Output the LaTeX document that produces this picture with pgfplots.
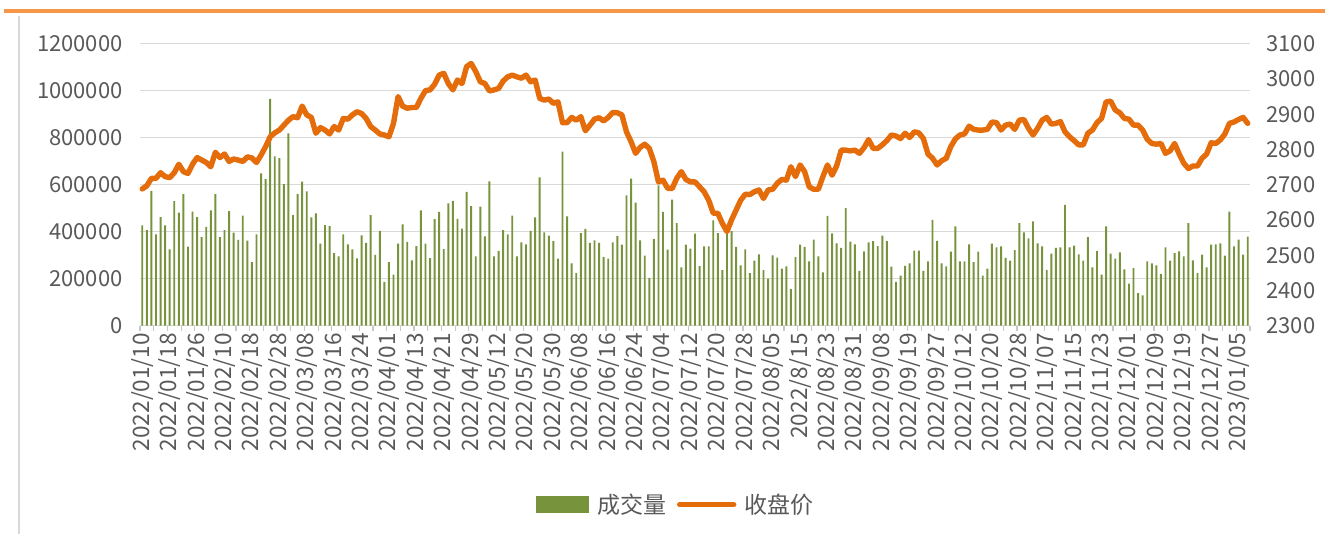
\documentclass[border=0pt]{standalone}
\usepackage{pgfplots}
\pgfplotsset{compat=1.18}
\usepackage{pgfplotstable}
\usepackage{fontspec}
\setmainfont{Noto Sans CJK SC}
\definecolor{barcol}{RGB}{119,147,60}
\definecolor{linecol}{RGB}{228,108,10}
\definecolor{topcol}{RGB}{247,150,70}
\definecolor{gridcol}{RGB}{217,217,217}
\definecolor{tickcol}{RGB}{200,200,200}
\definecolor{txtcol}{RGB}{89,89,89}
\pgfplotstableread{
x vol
0 427000
1 407000
2 574000
3 389000
4 462000
5 427000
6 325000
7 530000
8 481000
9 560000
10 336000
11 485000
12 462000
13 377000
14 421000
15 491000
16 560000
17 377000
18 407000
19 488000
20 396000
21 365000
22 468000
23 362000
24 271000
25 389000
26 648000
27 624000
28 965000
29 721000
30 713000
31 603000
32 818000
33 471000
34 560000
35 613000
36 572000
37 461000
38 478000
39 349000
40 428000
41 424000
42 309000
43 295000
44 389000
45 346000
46 325000
47 287000
48 384000
49 352000
50 471000
51 301000
52 404000
53 187000
54 271000
55 217000
56 349000
57 431000
58 357000
59 278000
60 339000
61 491000
62 349000
63 288000
64 454000
65 484000
66 326000
67 521000
68 531000
69 455000
70 413000
71 569000
72 509000
73 295000
74 507000
75 380000
76 614000
77 295000
78 318000
79 407000
80 389000
81 468000
82 295000
83 355000
84 346000
85 404000
86 461000
87 631000
88 397000
89 383000
90 360000
91 285000
92 741000
93 465000
94 265000
95 224000
96 394000
97 412000
98 353000
99 363000
100 353000
101 292000
102 285000
103 355000
104 382000
105 345000
106 555000
107 626000
108 524000
109 363000
110 298000
111 204000
112 370000
113 597000
114 484000
115 324000
116 536000
117 436000
118 248000
119 345000
120 328000
121 392000
122 254000
123 338000
124 338000
125 448000
126 394000
127 236000
128 413000
129 403000
130 335000
131 257000
132 325000
133 224000
134 277000
135 304000
136 236000
137 200000
138 299000
139 290000
140 243000
141 253000
142 156000
143 292000
144 345000
145 335000
146 274000
147 366000
148 295000
149 227000
150 467000
151 393000
152 350000
153 331000
154 500000
155 358000
156 346000
157 233000
158 316000
159 355000
160 360000
161 339000
162 383000
163 360000
164 251000
165 186000
166 213000
167 255000
168 265000
169 319000
170 319000
171 233000
172 274000
173 450000
174 361000
175 265000
176 253000
177 315000
178 423000
179 274000
180 274000
181 346000
182 271000
183 315000
184 213000
185 243000
186 349000
187 333000
188 338000
189 289000
190 277000
191 322000
192 437000
193 397000
194 372000
195 444000
196 350000
197 338000
198 238000
199 307000
200 331000
201 333000
202 514000
203 333000
204 341000
205 304000
206 277000
207 377000
208 248000
209 318000
210 217000
211 423000
212 307000
213 285000
214 312000
215 240000
216 179000
217 245000
218 139000
219 129000
220 274000
221 265000
222 257000
223 221000
224 333000
225 277000
226 309000
227 316000
228 295000
229 437000
230 278000
231 224000
232 302000
233 248000
234 345000
235 346000
236 350000
237 298000
238 485000
239 338000
240 366000
241 302000
242 379000
}\voltable
\pgfplotstableread{
x close
0 2688
1 2697
2 2718
3 2718
4 2734
5 2723
6 2720
7 2734
8 2758
9 2737
10 2732
11 2758
12 2777
13 2770
14 2763
15 2751
16 2792
17 2777
18 2787
19 2766
20 2773
21 2770
22 2766
23 2779
24 2776
25 2763
26 2784
27 2808
28 2836
29 2847
30 2855
31 2869
32 2883
33 2893
34 2890
35 2923
36 2898
37 2891
38 2846
39 2862
40 2855
41 2844
42 2865
43 2855
44 2888
45 2886
46 2898
47 2907
48 2902
49 2888
50 2865
51 2855
52 2844
53 2841
54 2836
55 2874
56 2950
57 2923
58 2917
59 2919
60 2919
61 2945
62 2967
63 2969
64 2985
65 3011
66 3016
67 2987
68 2969
69 2997
70 2987
71 3035
72 3044
73 3021
74 2992
75 2987
76 2966
77 2969
78 2973
79 2994
80 3006
81 3011
82 3006
83 3002
84 3011
85 2992
86 2997
87 2945
88 2940
89 2943
90 2931
91 2935
92 2876
93 2876
94 2891
95 2883
96 2893
97 2853
98 2869
99 2886
100 2890
101 2881
102 2891
103 2905
104 2904
105 2898
106 2850
107 2822
108 2789
109 2806
110 2815
111 2803
112 2765
113 2708
114 2713
115 2690
116 2689
117 2718
118 2737
119 2715
120 2708
121 2708
122 2694
123 2680
124 2656
125 2619
126 2619
127 2590
128 2567
129 2600
130 2628
131 2656
132 2673
133 2672
134 2680
135 2685
136 2661
137 2685
138 2687
139 2704
140 2715
141 2713
142 2751
143 2723
144 2756
145 2737
146 2694
147 2687
148 2687
149 2723
150 2756
151 2727
152 2753
153 2798
154 2798
155 2796
156 2798
157 2789
158 2805
159 2828
160 2803
161 2803
162 2813
163 2825
164 2841
165 2838
166 2831
167 2846
168 2834
169 2850
170 2847
171 2831
172 2787
173 2775
174 2756
175 2768
176 2775
177 2808
178 2830
179 2841
180 2844
181 2866
182 2857
183 2855
184 2855
185 2857
186 2878
187 2876
188 2855
189 2869
190 2872
191 2857
192 2883
193 2885
194 2860
195 2841
196 2860
197 2883
198 2891
199 2872
200 2874
201 2879
202 2850
203 2836
204 2825
205 2813
206 2813
207 2846
208 2855
209 2876
210 2888
211 2935
212 2937
213 2912
214 2904
215 2888
216 2886
217 2869
218 2869
219 2855
220 2829
221 2817
222 2815
223 2817
224 2789
225 2796
226 2817
227 2787
228 2761
229 2746
230 2753
231 2753
232 2775
233 2787
234 2819
235 2817
236 2827
237 2844
238 2874
239 2878
240 2885
241 2891
242 2874
}\closetable
\begin{document}
\begin{tikzpicture}
\path[use as bounding box] (0,0) rectangle (662.5bp,-267bp);
\draw[topcol, line width=1.7bp] (2bp,-5.5bp) -- (662.5bp,-5.5bp);
\draw[gridcol, line width=0.6bp] (9.5bp,-8bp) -- (9.5bp,-267bp);
\begin{axis}[
  at={(70bp,-162.85bp)}, anchor=south west,
  width=555bp, height=141bp, scale only axis,
  xmin=-0.5, xmax=242.5, ymin=0, ymax=1200000,
  scaled y ticks=false,
  axis x line*=bottom, axis y line*=left,
  x axis line style={gridcol, line width=0.75bp},
  y axis line style={draw=none},
  ytick={0,200000,400000,600000,800000,1000000,1200000},
  yticklabels={0,200000,400000,600000,800000,1000000,1200000},
  ymajorgrids, major grid style={gridcol, line width=0.75bp},
  ytick style={draw=none},
  yticklabel style={font=\fontsize{11bp}{13bp}\selectfont, text=txtcol, inner sep=0pt, xshift=-8.5bp},
  xtick={0,6,...,240},
  xticklabels={2022/01/10,2022/01/18,2022/01/26,2022/02/10,2022/02/18,2022/02/28,2022/03/08,2022/03/16,2022/03/24,2022/04/01,2022/04/13,2022/04/21,2022/04/29,2022/05/12,2022/05/20,2022/05/30,2022/06/08,2022/06/16,2022/06/24,2022/07/04,2022/07/12,2022/07/20,2022/07/28,2022/08/05,2022/8/15,2022/08/23,2022/08/31,2022/09/08,2022/09/19,2022/09/27,2022/10/12,2022/10/20,2022/10/28,2022/11/07,2022/11/15,2022/11/23,2022/12/01,2022/12/09,2022/12/19,2022/12/27,2023/01/05},
  major x tick style={draw=none},
  minor xtick={-0.5,2.5,...,242.5},
  minor x tick style={draw=tickcol, line width=0.6bp},
  minor tick length=2.6bp, major tick length=0pt,
  tick align=outside,
  xticklabel style={rotate=90, anchor=east, inner sep=0pt, font=\fontsize{11.3bp}{13bp}\selectfont, text=txtcol, xshift=-3.5bp},
  clip=false,
]
\addplot[ybar, bar width=0.42, fill=barcol, draw=none] table[x=x, y=vol]{\voltable};
\end{axis}
\begin{axis}[
  at={(70bp,-162.85bp)}, anchor=south west,
  width=555bp, height=141bp, scale only axis,
  xmin=-0.5, xmax=242.5, ymin=2300, ymax=3100,
  axis x line=none, axis y line*=right,
  y axis line style={draw=none},
  ytick={2300,2400,...,3100},
  yticklabels={2300,2400,2500,2600,2700,2800,2900,3000,3100},
  ytick style={draw=none},
  yticklabel style={font=\fontsize{11bp}{13bp}\selectfont, text=txtcol, inner sep=0pt, xshift=8bp},
  legend style={at={(0.4836,-0.635)}, anchor=center, draw=none, fill=none,
    font=\fontsize{11.5bp}{13bp}\selectfont, text=txtcol,
    /tikz/every odd column/.append style={column sep=2bp},
    /tikz/every even column/.append style={column sep=3.5bp}},
  legend columns=2,
  clip=false,
]
\addlegendimage{legend image code/.code={\fill[barcol] (0bp,-4bp) rectangle (26bp,4bp);}}
\addlegendentry{成交量}
\addplot[linecol, line width=2.7bp, line join=round, line cap=round,
  legend image code/.code={\draw[linecol, line width=2.7bp] (0bp,0bp) -- (27bp,0bp);}]
  table[x=x, y=close]{\closetable};
\addlegendentry{收盘价}
\end{axis}
\end{tikzpicture}
\end{document}
